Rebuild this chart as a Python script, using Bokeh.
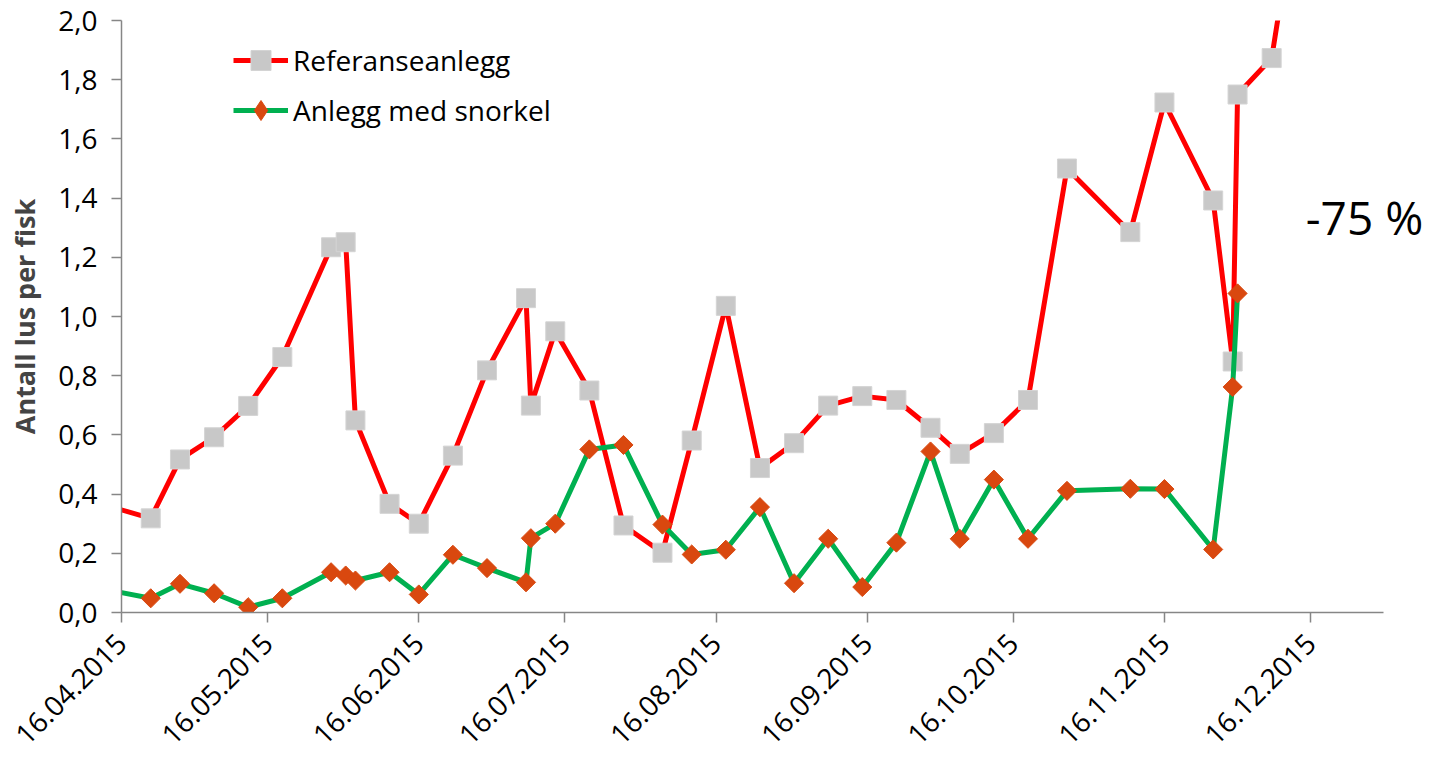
from datetime import datetime
from math import pi

from bokeh.plotting import figure
from bokeh.models import (Range1d, FixedTicker, DatetimeTickFormatter, CustomJSTickFormatter,
                          Legend, LegendItem, Label, ColumnDataSource)
from bokeh.transform import dodge
from bokeh.embed import file_html
from bokeh.resources import INLINE

# ---------------- data ----------------
ref_dates = ["09.04.2015", "22.04.2015", "28.04.2015", "05.05.2015", "12.05.2015", "19.05.2015",
             "29.05.2015", "01.06.2015", "03.06.2015", "10.06.2015", "16.06.2015", "23.06.2015",
             "30.06.2015", "08.07.2015", "09.07.2015", "14.07.2015", "21.07.2015", "28.07.2015",
             "05.08.2015", "11.08.2015", "18.08.2015", "25.08.2015", "01.09.2015", "08.09.2015",
             "15.09.2015", "22.09.2015", "29.09.2015", "05.10.2015", "12.10.2015", "19.10.2015",
             "27.10.2015", "09.11.2015", "16.11.2015", "26.11.2015", "30.11.2015", "01.12.2015",
             "08.12.2015", "15.12.2015"]
ref_values = [0.38, 0.318, 0.517, 0.592, 0.698, 0.863,
              1.234, 1.251, 0.649, 0.367, 0.300, 0.530,
              0.818, 1.062, 0.699, 0.950, 0.750, 0.294,
              0.202, 0.581, 1.036, 0.488, 0.572, 0.699,
              0.731, 0.718, 0.624, 0.536, 0.606, 0.718,
              1.500, 1.285, 1.723, 1.392, 0.848, 1.750,
              1.873, 2.60]

snork_dates = ref_dates[:36]
snork_values = [0.09, 0.048, 0.097, 0.065, 0.018, 0.048,
                0.136, 0.125, 0.108, 0.136, 0.061, 0.195,
                0.150, 0.102, 0.251, 0.300, 0.551, 0.566,
                0.297, 0.196, 0.212, 0.356, 0.099, 0.249,
                0.086, 0.236, 0.544, 0.249, 0.449, 0.249,
                0.411, 0.418, 0.417, 0.213, 0.762, 1.078]

x_tick_labels = ["16.04.2015", "16.05.2015", "16.06.2015", "16.07.2015", "16.08.2015",
                 "16.09.2015", "16.10.2015", "16.11.2015", "16.12.2015"]
axis_start, axis_end = "16.04.2015", "31.12.2015"   # extent of the drawn x axis
view_end = "10.01.2016"                             # frame extends past the axis for the note
y_ticks = [0.0, 0.2, 0.4, 0.6, 0.8, 1.0, 1.2, 1.4, 1.6, 1.8, 2.0]

series_names = ["Referanseanlegg", "Anlegg med snorkel"]
y_title = "Antall lus per fisk"
note_text = "-75 %"
note_date, note_value = "15.12.2015", 1.335

FONT = "Open Sans"
EPOCH = datetime(1970, 1, 1)


def to_dt(s):
    return datetime.strptime(s, "%d.%m.%Y")


def to_ms(s):
    return (to_dt(s) - EPOCH).total_seconds() * 1000.0


ref_src = ColumnDataSource(dict(x=[to_dt(s) for s in ref_dates], y=ref_values))
snk_src = ColumnDataSource(dict(x=[to_dt(s) for s in snork_dates], y=snork_values))

p = figure(width=1432, height=757, x_axis_type="datetime",
           x_range=Range1d(to_dt(axis_start), to_dt(view_end)),
           y_range=Range1d(y_ticks[0], y_ticks[-1]),
           output_backend="svg", toolbar_location=None,
           min_border_left=121, min_border_right=0, min_border_top=20, min_border_bottom=145)
p.outline_line_color = None
p.background_fill_color = "white"
p.border_fill_color = "white"
p.xgrid.visible = False
p.ygrid.visible = False

ORANGE = "#D9480F"

# series
red_line = p.line("x", "y", source=ref_src, line_color="#FF0000", line_width=5, line_join="round")
red_pts = p.scatter("x", "y", source=ref_src, marker="square", size=19,
                    fill_color="#C8C8C8", line_color="#D4D4D4", line_width=1)
grn_line = p.line("x", "y", source=snk_src, line_color="#00B050", line_width=5, line_join="round")
grn_pts = p.scatter("x", "y", source=snk_src, marker="square", angle=pi / 4, size=13.5,
                    fill_color=ORANGE, line_color=ORANGE, line_width=1)
# legend swatch for the diamond marker: same data pushed far outside the y range,
# so it never shows in the plot but gives the legend an unrotated diamond glyph
grn_leg = p.scatter("x", dodge("y", 100.0), source=snk_src, marker="diamond", size=20,
                    fill_color=ORANGE, line_color=ORANGE, line_width=1)

# axes
for ax in (p.xaxis[0], p.yaxis[0]):
    ax.axis_line_color = "#868686"
    ax.axis_line_width = 1.5
    ax.major_tick_line_color = "#868686"
    ax.major_tick_line_width = 1.5
    ax.major_tick_out = 10
    ax.major_tick_in = 0
    ax.minor_tick_line_color = None
    ax.major_label_text_font = FONT
    ax.major_label_text_font_size = "28px"
    ax.major_label_text_color = "black"

p.xaxis.bounds = (to_dt(axis_start), to_dt(axis_end))
p.xaxis.ticker = FixedTicker(ticks=[to_ms(s) for s in x_tick_labels])
fmt = "%d.%m.%Y"
p.xaxis.formatter = DatetimeTickFormatter(milliseconds=fmt, seconds=fmt, minsec=fmt, minutes=fmt,
                                          hourmin=fmt, hours=fmt, days=fmt, months=fmt, years=fmt,
                                          context=None)
p.xaxis.major_label_orientation = pi / 4
p.xaxis.major_label_standoff = 16

p.yaxis.ticker = FixedTicker(ticks=y_ticks)
p.yaxis.formatter = CustomJSTickFormatter(code="return tick.toFixed(1).replace('.', ',');")
p.yaxis.major_label_standoff = 14
p.yaxis.axis_label = y_title
p.yaxis.axis_label_text_font = FONT
p.yaxis.axis_label_text_font_style = "bold"
p.yaxis.axis_label_text_font_size = "27px"
p.yaxis.axis_label_standoff = 12

# legend
legend = Legend(items=[LegendItem(label=series_names[0], renderers=[red_line, red_pts]),
                       LegendItem(label=series_names[1], renderers=[grn_line, grn_leg])],
                location=(112, 477), orientation="vertical",
                glyph_width=55, glyph_height=50, label_height=50, label_width=10,
                spacing=0, padding=0, margin=0, label_standoff=5,
                label_text_font=FONT, label_text_font_size="28px", label_text_color="black",
                border_line_color=None, background_fill_alpha=0)
p.add_layout(legend)

# annotation
p.add_layout(Label(x=to_ms(note_date), y=note_value, text=note_text, text_font=FONT,
                   text_font_size="46px", text_color="black", text_baseline="middle",
                   text_align="left"))

open("out.html", "w").write(file_html(p, INLINE))
